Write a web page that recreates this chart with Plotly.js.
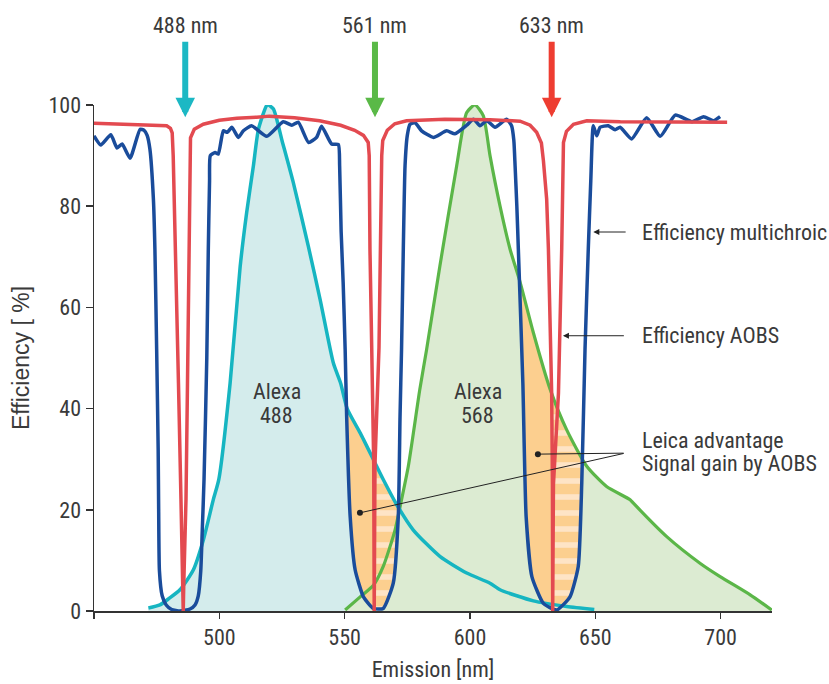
<!DOCTYPE html>
<html><head><meta charset="utf-8">
<script src="https://cdn.plot.ly/plotly-3.0.1.min.js"></script>
<style>html,body{margin:0;padding:0;background:#fff}#chart{width:829px;height:684px}</style>
</head><body><div id="chart"></div>
<script>
// ---- data (nm, %) ----
const multichroicNm = [450,452.7,456.7,459.2,461.2,464.4,468.4,470,471.2,472.3,473.7,474.3,475,475.6,475.8,476.1,477.2,478.8,481,484.3,488.3,490.3,491.6,492.6,493.2,493.9,495,495.6,496.1,496.4,498.3,499.6,501.6,503.2,505,507.6,509.6,512.9,518.9,525.5,528.9,531.5,535.6,538.8,540.8,544.8,547.5,548,548.6,549.4,550.2,550.8,552.2,554.2,557.5,561.5,565.4,569.4,571.4,572.1,572.7,573.4,574.1,575,576.1,578.1,580.7,585.4,590.7,594,598.7,601.4,604,606.7,610,614.6,616.6,617.5,618,618.7,619.3,621.1,622.4,624.7,629.3,634.6,639.9,643.2,644.6,645.9,647.2,648.2,649.2,650.6,651.9,655.2,657.9,659.9,664.5,670.5,675.9,681.9,688.6,693.2,697.2,699.8];
const multichroicEff = [93.9,92.1,94.1,91.5,92.3,89.5,95.2,95,94,91.3,81.4,71.5,51.7,31.9,20,8,3,1.2,0.3,0,0.4,1.2,3,8,16,26,50,71.5,85,90,90.6,90.3,94.9,94.6,95.6,93.6,94.9,95.9,93.8,96.7,96,96.6,92.6,93.6,95.8,92.3,92.2,88,75,65,51.7,38.5,18.7,8.1,2.8,0.5,0.5,5.5,18.7,38.5,51.7,71.5,88,94,96.2,96.5,94.9,93.6,94.9,94.3,96,97.2,95.9,96.9,95.6,97.2,95.9,93,88,80,71.5,45,18.7,6.8,1.5,0.2,2.8,8.8,25.3,51.7,71.5,85,95.9,93.9,95.6,95.9,95.1,95.6,93.3,97.5,93.8,98,96.7,97.7,96.9,97.7];

const aobsNm = [450,465,475,479,480.5,481.2,481.6,482.6,483.7,484.7,485.4,485.6,485.8,486.7,487.3,487.9,488.2,488.5,490,493.6,500,507,514.9,520,530,540,548.4,554,557.5,559.4,559.8,560.1,560.8,561.6,561.8,562.1,563.7,564.2,564.8,565.2,567,570,574.7,590,608,620,624,626.6,628.5,629.3,630.6,631.3,632.6,632.9,633,633.3,635.3,636.6,637,637.3,638.5,641.3,646.6,660,702.6];
const aobsEff = [96.4,96.2,96,95.9,95.4,94.5,90,71.5,45,22,5,0,5,22,45,71.5,90,93.5,95.2,96.2,97,97.4,97.6,97.8,97.5,96.9,96,95,94,92.6,90,71.5,52,29,0,29,52,71.5,90,93,95,96.3,96.9,97.2,97.1,96.8,96,94.6,92.5,89,81.4,71.5,43,25,0,25,43,71.5,85,92.6,94.8,96.2,96.9,96.7,96.6];

const alexa488Nm = [471.7,476.3,480,484.3,489.6,493.6,497.6,499.8,504.3,508.3,510.9,513.6,515.6,518.9,519.6,521.6,525,529.5,535.5,540.2,545.5,548.4,551,556.3,561.5,565.4,570.8,577.4,588,598.7,608,612,625.3,638.6,649.6];
const alexa488Em = [0.6,1.2,2.5,4.2,8.1,14,22,26,45,68,78.7,88,95.2,99.9,100,99.2,93,84.7,72.1,61.6,49,45,40,35.1,29.9,26,21,16,10.8,7.5,5.5,4.2,2,0.9,0.3];

const alexa568Nm = [550.2,556.2,561.5,565.4,570.1,572.7,575.4,580,582.7,588,594.7,598.7,602,605.3,608,612,616,620,625.3,632,638.6,646.6,654.5,663.9,665.2,678.5,691.9,699.8,711.8,720.4];
const alexa568Em = [0.2,2.8,5.1,8.8,16,22,28.6,43.8,51.7,68.2,88,98.5,100,97.9,90,80,71.5,65,55,43.8,35.8,28.6,24.6,22,21.3,14.7,9.4,6.8,3.2,0.2];

// signal gain by AOBS (area under the dye curve inside the multichroic notch)
const gain561SolidNm = [550.7,553,556.3,559,561.8,561.8,557.5,554.2,552.2,551.3,550.7];
const gain561SolidEff = [40.3,37.7,35.1,32.3,29.6,0.4,2.8,8.1,18.7,30,40.3];
const gain561StripedNm = [561.8,565.4,568,571.5,571.4,570.8,569.4,567.5,565.4,561.8];
const gain561StripedEff = [29.6,26,23.6,20.4,18.7,12,5.5,2,0.5,0.4];
const gain633SolidNm = [620.1,622.5,625.3,628.5,632.7,632.7,629.3,626.5,624.7,623.2,622.4,621.1,620.1];
const gain633SolidEff = [64,60,55,49.5,42.8,0.3,1.5,3.5,6.8,12,18.7,45,64];
const gain633StripedNm = [632.7,635.5,638.6,642,645.0,644.6,644.4,643.2,641.5,639.9,637,634.6,632.7];
const gain633StripedEff = [42.8,39.5,35.8,32.3,29.5,25.3,15,8.8,4.5,2.8,1,0.2,0.3];

const laserLabels = ['488 nm','561 nm','633 nm'];
const laserPos = [486.4, 562.1, 632.6];
const laserColors = ['#1cb8c4','#5ab947','#ee3d31'];

const xTicks = [450,500,550,600,650,700];
const xTickText = ['','500','550','600','650','700'];
const yTicks = [0,20,40,60,80,100];

// ---- styles ----
const NARROW = '"Liberation Sans Narrow", "Arial Narrow", "Roboto Condensed", sans-serif';
const TXT = '#3a3a3a';
const AX = '#333333';

const traces = [
  {x: alexa488Nm, y: alexa488Em, mode:'lines', fill:'tozeroy', fillcolor:'#d4ecec', line:{width:0, shape:'spline', smoothing:0.6}, hoverinfo:'skip', cliponaxis:false},
  {x: alexa568Nm, y: alexa568Em, mode:'lines', fill:'tozeroy', fillcolor:'#dcebd2', line:{width:0, shape:'spline', smoothing:0.6}, hoverinfo:'skip', cliponaxis:false},
  {x: gain561SolidNm, y: gain561SolidEff, mode:'lines', fill:'toself', fillcolor:'#fccf8f', line:{width:0}, hoverinfo:'skip'},
  {x: gain633SolidNm, y: gain633SolidEff, mode:'lines', fill:'toself', fillcolor:'#fccf8f', line:{width:0}, hoverinfo:'skip'},
  {x: gain561StripedNm, y: gain561StripedEff, mode:'lines', fill:'toself', fillcolor:'#fccf8f',
   fillpattern:{shape:'-', size:16, solidity:0.35, fgcolor:'#fee4c6', bgcolor:'#fccf8f', fillmode:'replace'}, line:{width:0}, hoverinfo:'skip'},
  {x: gain633StripedNm, y: gain633StripedEff, mode:'lines', fill:'toself', fillcolor:'#fccf8f',
   fillpattern:{shape:'-', size:16, solidity:0.35, fgcolor:'#fee4c6', bgcolor:'#fccf8f', fillmode:'replace'}, line:{width:0}, hoverinfo:'skip'},
  {x: alexa568Nm, y: alexa568Em, mode:'lines', line:{color:'#5bb648', width:3.2, shape:'spline', smoothing:0.6}, cliponaxis:false, name:'Alexa 568'},
  {x: alexa488Nm, y: alexa488Em, mode:'lines', line:{color:'#16b5c1', width:3.5, shape:'spline', smoothing:0.6}, cliponaxis:false, name:'Alexa 488'},
  {x: multichroicNm, y: multichroicEff, mode:'lines', line:{color:'#1a4c9b', width:3.5, shape:'spline', smoothing:0.5}, cliponaxis:false, name:'Efficiency multichroic'},
  {x: aobsNm, y: aobsEff, mode:'lines', line:{color:'#e34a50', width:3.5}, cliponaxis:false, name:'Efficiency AOBS'}
];

const annotations = [];
laserLabels.forEach((t,i)=>{
  annotations.push({x: laserPos[i], y: 1.158, xref:'x', yref:'paper', yanchor:'middle', text:t, showarrow:false,
    font:{family:NARROW, size:22, color:TXT}});
  annotations.push({x: laserPos[i], y: 97.6, ax: laserPos[i], ay: 112.8, axref:'x', ayref:'y', xref:'x', yref:'y',
    text:'', showarrow:true, arrowhead:2, arrowsize:0.65, arrowwidth:6, arrowcolor:laserColors[i]});
});
const lab = (x,y,t,anchor)=>({x, y, xref:'x', yref:'y', text:t, showarrow:false, xanchor:anchor||'center',
  font:{family:NARROW, size:22, color:TXT}});
annotations.push(lab(523, 43.3, 'Alexa'));
annotations.push(lab(523, 38.7, '488'));
annotations.push(lab(603.2, 43.3, 'Alexa'));
annotations.push(lab(603.2, 38.7, '568'));
annotations.push(lab(668.0, 74.8, 'Efficiency multichroic', 'left'));
annotations.push(lab(668.0, 54.4, 'Efficiency AOBS', 'left'));
annotations.push(lab(668.0, 33.6, 'Leica advantage', 'left'));
annotations.push(lab(668.0, 29.1, 'Signal gain by AOBS', 'left'));
const ptr = (x,y,ax,ay,head,size)=>({x, y, ax, ay, xref:'x', yref:'y', axref:'x', ayref:'y', text:'', showarrow:true,
  arrowhead:head, arrowsize:size, arrowwidth:1, arrowcolor:'#222'});
annotations.push(ptr(649.2, 74.9, 662.7, 74.9, 2, 1.2));
annotations.push(ptr(637.1, 54.4, 662.0, 54.4, 2, 1.2));
annotations.push(ptr(627.1, 31.0, 661.9, 31.2, 6, 1.5));
annotations.push(ptr(556.1, 19.4, 661.9, 31.2, 6, 1.5));

const layout = {
  width:829, height:684,
  margin:{l:94, r:57, t:105, b:73},
  paper_bgcolor:'#ffffff', plot_bgcolor:'#ffffff',
  showlegend:false,
  xaxis:{range:[450,720.5], tickvals:xTicks, ticktext:xTickText, ticks:'outside', ticklen:6, tickwidth:1.5, tickcolor:AX,
    showline:true, linecolor:AX, linewidth:1.5, showgrid:false, zeroline:false, fixedrange:true,
    tickfont:{family:NARROW, size:22, color:TXT},
    title:{text:'Emission [nm]', font:{family:NARROW, size:22, color:TXT}, standoff:12}},
  yaxis:{range:[0,100], tickvals:yTicks, ticks:'outside', ticklen:7, tickwidth:1.5, tickcolor:AX,
    showline:true, linecolor:AX, linewidth:1.5, showgrid:false, zeroline:false, fixedrange:true,
    tickfont:{family:NARROW, size:22, color:TXT},
    title:{text:'Efficiency [ %]', font:{family:'"Liberation Sans", Arial, sans-serif', size:23, color:TXT}, standoff:12}},
  annotations
};
Plotly.newPlot('chart', traces, layout, {staticPlot:true, displayModeBar:false});
</script></body></html>
